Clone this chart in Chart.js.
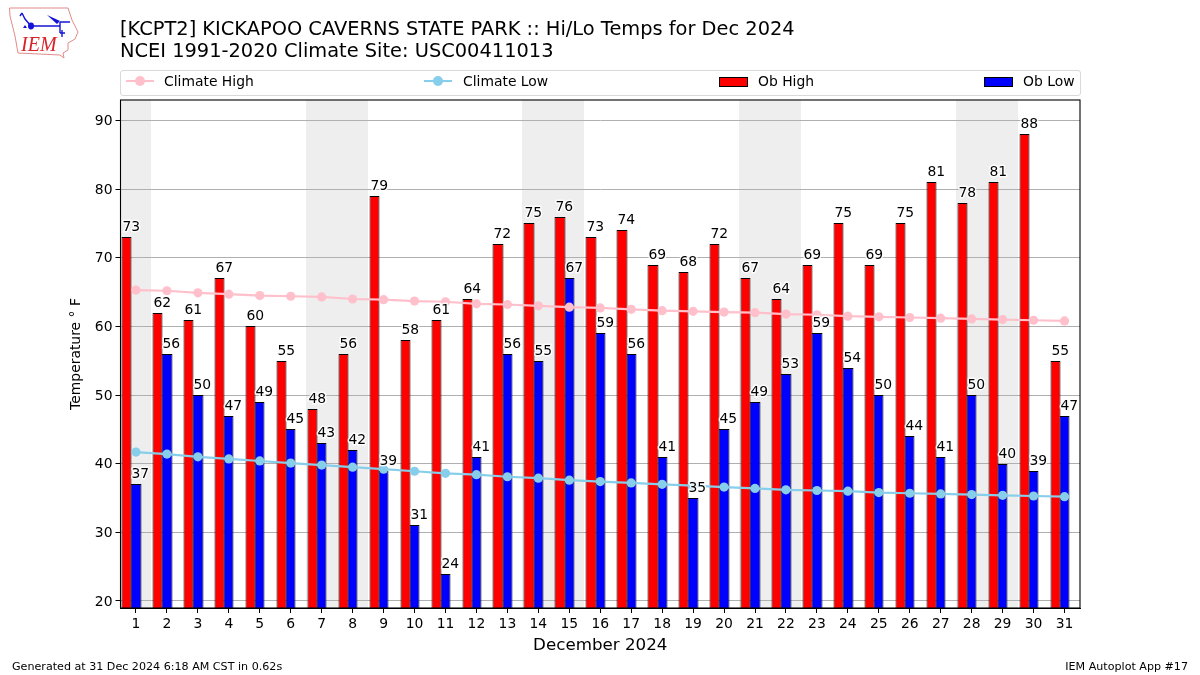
<!DOCTYPE html>
<html>
<head>
<meta charset="utf-8">
<title>KCPT2 Hi/Lo Temps</title>
<script src="https://cdn.jsdelivr.net/npm/chart.js@4/dist/chart.umd.min.js"></script>
<style>
    html, body { margin: 0; padding: 0; background: #fff; }
    body { width: 1200px; height: 675px; position: relative; overflow: hidden; font-family: "DejaVu Sans", sans-serif; color: #000; }
    canvas { position: absolute; left: 0; top: 0; }
    .txt { position: absolute; white-space: nowrap; }
    #title { left: 120px; top: 18px; font-size: 19.4px; line-height: 22px; }
    #legend { position: absolute; left: 120px; top: 70px; width: 959px; height: 24px; border: 1px solid #d9d9d9; border-radius: 3px; }
    .legText { position: absolute; top: 2px; font-size: 13.9px; line-height: 17px; white-space: nowrap; }
    .legLine { position: absolute; top: 9px; width: 28px; height: 2px; }
    .legDot { position: absolute; top: 5px; width: 10px; height: 10px; border-radius: 50%; }
    .legBox { position: absolute; top: 6px; width: 27px; height: 8px; border: 1px solid #000; }
    #logo { position: absolute; left: 0; top: 0; }
</style>
</head>
<body>
<canvas id="tempChart" width="1200" height="675"></canvas>

<svg id="logo" width="90" height="65" viewBox="0 0 90 65">
    <polyline points="9.5,8 68,8 72,20 78,32 75,39 68,43 68,50 63,53 64,58 60,55 18,53 15,36 10,16 9.5,8" fill="none" stroke="#e28a8a" stroke-width="1"/>
    <path d="M22,13 L25,19 L31,26 H60 M60,22 V33 M60,22 H70 M22,13 L20,16 M62,30 V37 M60,33 H65" fill="none" stroke="#1414d8" stroke-width="1.4"/>
    <ellipse cx="31" cy="26" rx="3" ry="3.4" fill="#1414d8"/>
    <path d="M47,15 L60,21 L57,24 Z" fill="#1414d8"/>
    <path d="M25,25 L27,28 H23 Z" fill="#1414d8"/>
    <text x="21" y="51" font-family="Liberation Serif" font-style="italic" font-size="20" fill="#d8232a">IEM</text>
</svg>

<div id="title" class="txt">[KCPT2] KICKAPOO CAVERNS STATE PARK :: Hi/Lo Temps for Dec 2024<br>NCEI 1991-2020 Climate Site: USC00411013</div>

<div id="legend">
    <div class="legLine" style="left:5px;background:#ffc0cb"></div>
    <div class="legDot" style="left:14px;background:#ffc0cb"></div>
    <div class="legText" style="left:43px">Climate High</div>
    <div class="legLine" style="left:303px;background:#87ceeb"></div>
    <div class="legDot" style="left:312px;background:#87ceeb"></div>
    <div class="legText" style="left:342px">Climate Low</div>
    <div class="legBox" style="left:598px;background:#ff0000"></div>
    <div class="legText" style="left:637px">Ob High</div>
    <div class="legBox" style="left:863px;background:#0000ff"></div>
    <div class="legText" style="left:902px">Ob Low</div>
</div>

<div class="txt" style="left:12px;top:660px;font-size:11.12px">Generated at 31 Dec 2024 6:18 AM CST in 0.62s</div>
<div class="txt" style="right:12px;top:660px;font-size:11.12px">IEM Autoplot App #17</div>

<script>
// --- Data ---
const days = ["1","2","3","4","5","6","7","8","9","10","11","12","13","14","15","16","17","18","19","20","21","22","23","24","25","26","27","28","29","30","31"];
const obHigh = [73,62,61,67,60,55,48,56,79,58,61,64,72,75,76,73,74,69,68,72,67,64,69,75,69,75,81,78,81,88,55];
const obLow = [37,56,50,47,49,45,43,42,39,31,24,41,56,55,67,59,56,41,35,45,49,53,59,54,50,44,41,50,40,39,47];
const climateHigh = [65.3,65.2,64.9,64.7,64.5,64.4,64.3,64.0,63.9,63.7,63.6,63.3,63.2,63.0,62.8,62.7,62.5,62.3,62.2,62.1,62.0,61.8,61.7,61.5,61.4,61.3,61.2,61.1,61.0,60.9,60.8];
const climateLow = [41.7,41.4,41.0,40.7,40.4,40.1,39.8,39.5,39.2,38.9,38.6,38.4,38.1,37.9,37.6,37.4,37.2,37.0,36.8,36.6,36.4,36.2,36.1,36.0,35.8,35.7,35.6,35.5,35.4,35.3,35.2];
const weekendDays = ["1","7","8","14","15","21","22","28","29"];
const yTicks = [20,30,40,50,60,70,80,90];

// --- Plugins ---
const weekendShade = {
    id: "weekendShade",
    beforeDraw(chart){
        let ctx = chart.ctx, area = chart.chartArea, x = chart.scales.x;
        let half = (x.getPixelForValue(1) - x.getPixelForValue(0)) / 2;
        ctx.save();
        ctx.fillStyle = "#eeeeee";
        weekendDays.forEach(d => {
            let c = x.getPixelForValue(days.indexOf(d));
            let left = Math.floor(c - half), right = Math.floor(c + half);
            ctx.fillRect(left, area.top, right - left, area.bottom - area.top);
        });
        ctx.restore();
    }
};

// snap bars to whole pixels so the black edges stay crisp
const snapBars = {
    id: "snapBars",
    afterDatasetsUpdate(chart){
        chart.data.datasets.forEach((ds, i) => {
            if (ds.type !== "bar") return;
            chart.getDatasetMeta(i).data.forEach(bar => {
                let left = Math.round(bar.x - bar.width / 2), right = Math.round(bar.x + bar.width / 2);
                bar.x = (left + right) / 2;
                bar.width = right - left + 1;
                bar.y = Math.round(bar.y);
            });
        });
    }
};

const barLabels = {
    id: "barLabels",
    afterDatasetsDraw(chart){
        let ctx = chart.ctx, area = chart.chartArea;
        ctx.save();
        ctx.strokeStyle = "#000";
        ctx.lineWidth = 1.1;
        ctx.strokeRect(area.left, area.top, area.right - area.left, area.bottom - area.top);
        ctx.font = '13.9px "DejaVu Sans"';
        ctx.textAlign = "left";
        ctx.textBaseline = "alphabetic";
        ctx.lineJoin = "round";
        chart.data.datasets.forEach((ds, i) => {
            if (ds.type !== "bar" || !ds.label) return;
            chart.getDatasetMeta(i).data.forEach((bar, j) => {
                let left = bar.x - bar.width / 2 + 1, text = String(ds.data[j]);
                ctx.strokeStyle = "rgba(255,255,255,0.85)";
                ctx.lineWidth = 3;
                ctx.strokeText(text, left, bar.y - 6.5);
                ctx.fillStyle = "#000";
                ctx.fillText(text, left, bar.y - 6.5);
            });
        });
        ctx.restore();
    }
};

// --- Chart ---
let lineStyle = {type: "line", order: 0, borderWidth: 2.2, pointRadius: 4.6, pointHoverRadius: 4.6, pointBorderWidth: 0, tension: 0};
let barStyle = {type: "bar", order: 1, borderColor: "#000", borderWidth: 1, categoryPercentage: 0.9, barPercentage: 1};

new Chart(document.getElementById("tempChart"), {
    data: {
        labels: days,
        datasets: [
            {...lineStyle, label: "Climate High", data: climateHigh, borderColor: "#ffc0cb", backgroundColor: "#ffc0cb"},
            {...lineStyle, label: "Climate Low", data: climateLow, borderColor: "#87ceeb", backgroundColor: "#87ceeb"},
            {...barStyle, label: "Ob High", data: obHigh, backgroundColor: "#ff0000"},
            {...barStyle, label: "Ob Low", data: obLow, backgroundColor: "#0000ff"},
            // empty third slot, the original bars sit left of each tick
            {...barStyle, label: "", data: []}
        ]
    },
    options: {
        responsive: false,
        animation: false,
        events: [],
        layout: {padding: {left: 0, right: 120, top: 100, bottom: 0}},
        plugins: {legend: {display: false}, title: {display: false}, tooltip: {enabled: false}},
        scales: {
            x: {
                type: "category",
                offset: true,
                afterFit(axis){ axis.height = 67; },
                border: {color: "#000", width: 1},
                grid: {drawOnChartArea: false, color: "#000", tickLength: 5, tickWidth: 1, offset: false},
                ticks: {color: "#000", font: {family: "DejaVu Sans", size: 13.9}, padding: 3, maxRotation: 0, autoSkip: false},
                title: {display: true, text: "December 2024", color: "#000", font: {family: "DejaVu Sans", size: 16.7}, padding: {top: 0, bottom: 19}}
            },
            y: {
                min: 18.98,
                max: 92.99,
                afterFit(axis){ axis.width = 120.5; },
                afterBuildTicks(axis){ axis.ticks = yTicks.map(v => ({value: v})); },
                border: {color: "#000", width: 1},
                grid: {color: "#b0b0b0", lineWidth: 1, tickColor: "#000", tickLength: 5, tickWidth: 1},
                ticks: {color: "#000", font: {family: "DejaVu Sans", size: 13.9}, padding: 3, labelOffset: 1},
                title: {display: true, text: "Temperature \u00B0 F", color: "#000", font: {family: "DejaVu Sans", size: 13.9}, padding: {top: 68, bottom: 0}}
            }
        }
    },
    plugins: [weekendShade, snapBars, barLabels]
});
</script>
</body>
</html>
